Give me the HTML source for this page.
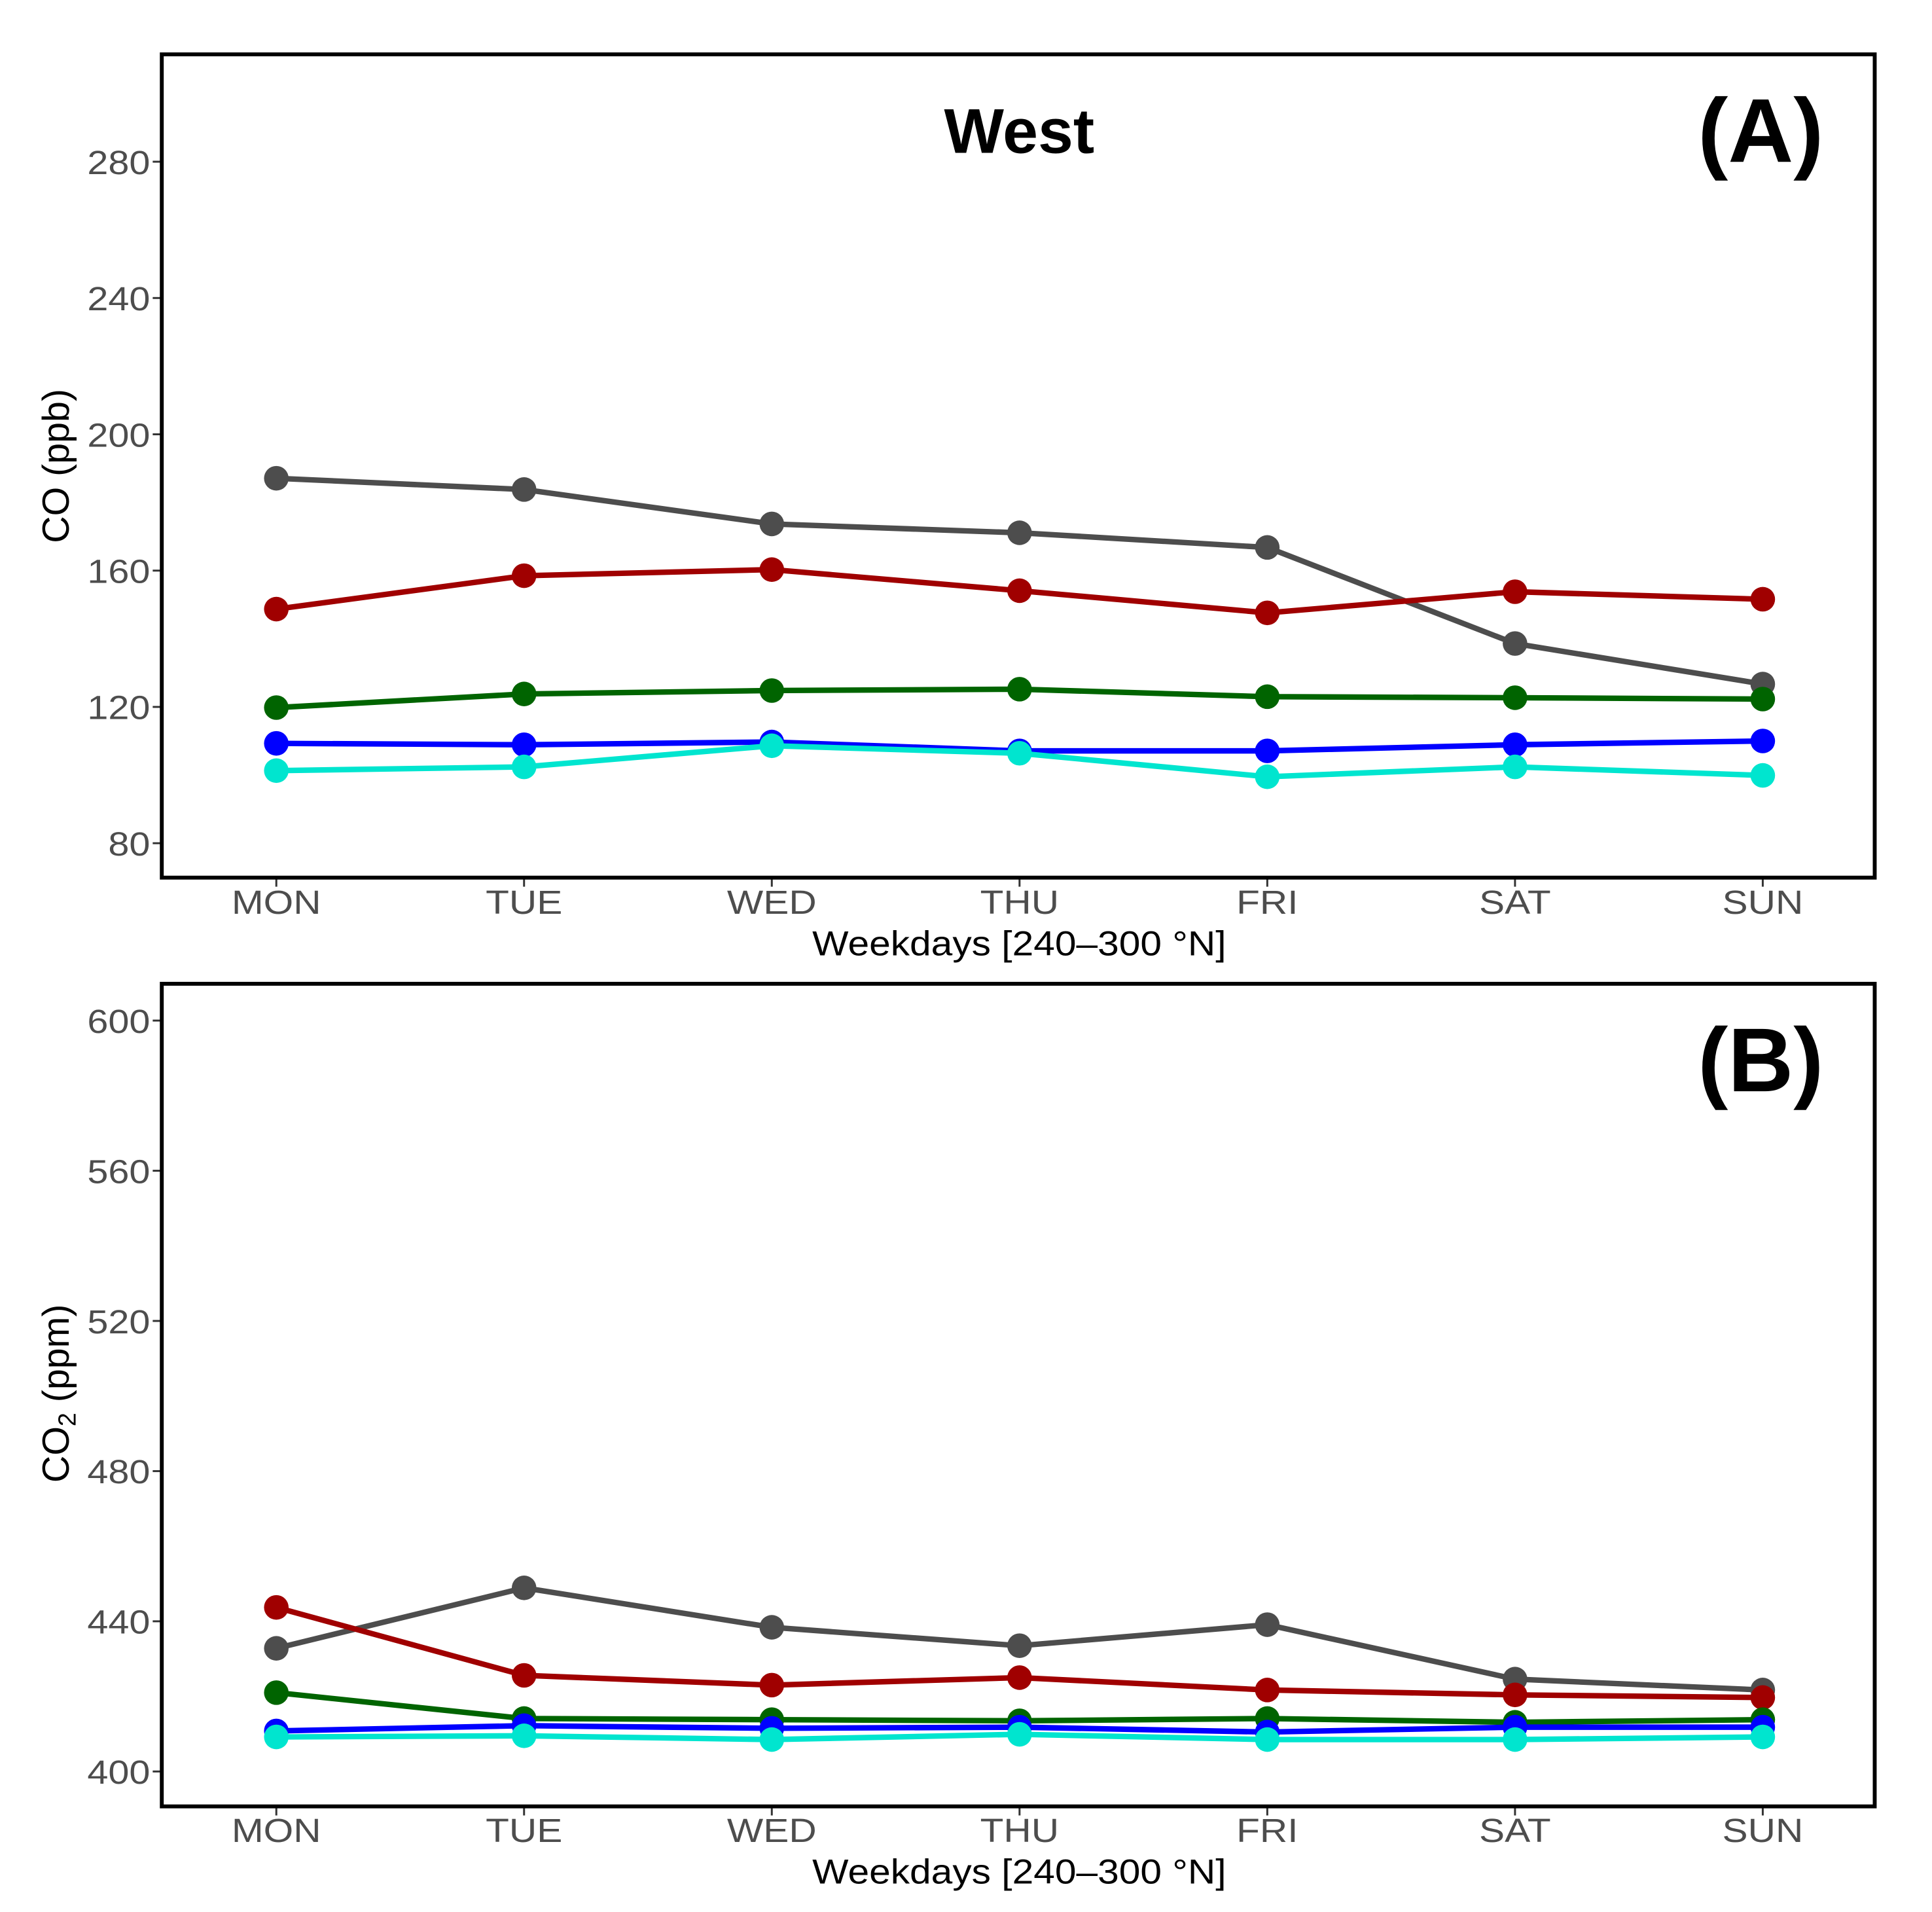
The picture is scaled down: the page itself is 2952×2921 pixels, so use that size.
<!DOCTYPE html>
<html><head><meta charset="utf-8">
<style>
html,body{margin:0;padding:0;background:#fff;}
svg{display:block;font-family:"Liberation Sans",Arial,sans-serif;}
</style></head>
<body>
<svg id="chart" width="2952" height="2921" viewBox="0 0 2952 2921" xmlns="http://www.w3.org/2000/svg"><g id="root" transform="scale(0.98877)"></g></svg>
<script>
const days = ["MON","TUE","WED","THU","FRI","SAT","SUN"];
const seriesNames = ["gray","red","green","blue","cyan"];
const seriesColors = ["#4d4d4d","#a00000","#006400","#0000ff","#00e5cf"];
const coGray  = [187.1,183.8,173.7,171.1,166.8,138.6,126.7];
const coRed   = [148.7,158.5,160.3,154.1,147.6,153.8,151.6];
const coGreen = [119.8,123.8,124.8,125.2,123.0,122.7,122.3];
const coBlue  = [109.3,108.9,109.7,107.1,107.1,108.9,110.0];
const coCyan  = [101.3,102.4,108.6,106.4,99.5,102.4,99.9];
const co2Gray  = [432.8,448.9,438.4,433.5,439.1,424.6,421.7];
const co2Red   = [443.7,425.6,423.0,425.0,421.7,420.4,419.7];
const co2Green = [421.0,414.1,413.8,413.5,414.1,413.1,413.8];
const co2Blue  = [410.8,412.2,411.5,411.8,410.5,411.8,411.8];
const co2Cyan  = [409.2,409.5,408.5,409.9,408.5,408.5,409.2];
const coTicks = [80,120,160,200,240,280];
const co2Ticks = [400,440,480,520,560,600];

const NS = "http://www.w3.org/2000/svg";
const root = document.getElementById("root");
function mk(tag, attrs, parent){
  const e = document.createElementNS(NS, tag);
  for (const k in attrs) e.setAttribute(k, attrs[k]);
  (parent||root).appendChild(e);
  return e;
}
function txt(parent, x, y, s, size, anchor, fill, weight, sx){
  const t = mk("text", {"transform":"translate("+x+","+y+") scale("+(sx||1)+",1)","font-size":size,"text-anchor":anchor,"fill":fill,"font-weight":weight||"normal"}, parent);
  t.textContent = s;
  return t;
}

function panel(cfg){
  const g = mk("g", {});
  
  
  const L=250, R=2897, T=cfg.top, B=cfg.bottom;
  const xScale = i => 427 + i*(2724-427)/6;
  const yScale = v => T + (cfg.ymax - v)/(cfg.ymax - cfg.ymin)*(B-T);
  cfg.ticks.forEach(v=>{
    const y = yScale(v);
    const tk = mk("line",{x1:L-14,x2:L,y1:y,y2:y,stroke:"#333","stroke-width":3},g);
    
    
    const t = txt(g, 232, y+19, String(v), 52, "end", "#4d4d4d", "normal", 1.12);
    
    
  });
  days.forEach((d,i)=>{
    const x = xScale(i);
    const tk = mk("line",{x1:x,x2:x,y1:B,y2:B+14,stroke:"#333","stroke-width":3},g);
    
    
    const t = txt(g, x, cfg.xlabY, d, 52, "middle", "#4d4d4d", "normal", 1.14);
    
    
  });
  cfg.series.forEach((vals, si)=>{
    const col = seriesColors[si];
    const pts = vals.map((v,i)=>xScale(i)+","+yScale(v)).join(" ");
    const pl = mk("polyline",{points:pts,fill:"none",stroke:col,"stroke-width":8.5,"stroke-linejoin":"round"},g);
    
    
    vals.forEach((v,i)=>{
      const c = mk("circle",{cx:xScale(i),cy:yScale(v),r:19,fill:col},g);
      
      
    });
  });
  const fr = mk("rect",{x:L,y:T,width:R-L,height:B-T,fill:"none",stroke:"#000","stroke-width":6},g);
  
  
  const xt = txt(g, 1575, cfg.xtitleY, "Weekdays [240–300 °N]", 53, "middle", "#000", "normal", 1.12);
  
  
  const yt = mk("text",{"transform":"translate(106,"+cfg.ytitleY+") rotate(-90)","font-size":58,"text-anchor":"middle","fill":"#000"},g);
  
  
  yt.innerHTML = cfg.ytitle;
  const pl = txt(g, 2818, T+166, cfg.label, 140, "end", "#000", "bold");
  
  
  return g;
}

panel({name:"panel-a-co", top:84, bottom:1356, ymin:69.9, ymax:311.5, ticks:coTicks,
  series:[coGray,coRed,coGreen,coBlue,coCyan], xlabY:1412, xtitleY:1476, ytitleY:720,
  ytitle:"CO (ppb)", label:"(A)"});
panel({name:"panel-b-co2", top:1520, bottom:2791, ymin:390.7, ymax:609.8, ticks:co2Ticks,
  series:[co2Gray,co2Red,co2Green,co2Blue,co2Cyan], xlabY:2846, xtitleY:2910, ytitleY:2153,
  ytitle:'CO<tspan font-size="38" dy="11">2</tspan><tspan dy="-11"> (ppm)</tspan>', label:"(B)"});

const title = txt(root, 1575, 236, "West", 98, "middle", "#000", "bold");


</script>
</body></html>
